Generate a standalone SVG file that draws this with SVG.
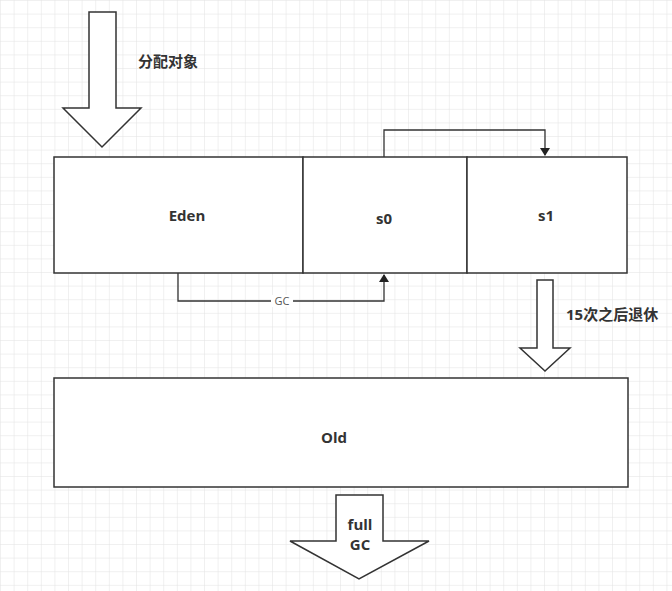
<svg xmlns="http://www.w3.org/2000/svg" width="672" height="591" viewBox="0 0 672 591">
<defs>
<pattern id="g" width="13.6" height="13.6" patternUnits="userSpaceOnUse" x="1" y="1"><path d="M13.6 0V13.6H0" fill="none" stroke="#e2e2e2" stroke-width="1"/></pattern>
<marker id="a" markerWidth="8" markerHeight="10" refX="7" refY="5" orient="auto" markerUnits="userSpaceOnUse"><path d="M0 0L8 5L0 10Z" fill="#222"/></marker>
<style>
.s{fill:#fff;stroke:#333;stroke-width:1.5}
.t{font-family:"Open Sans","Noto Sans CJK SC",sans-serif;font-weight:bold;font-size:15px;fill:#333}
.c{fill:none;stroke:#333;stroke-width:1.3}
</style>
</defs>
<rect width="672" height="591" fill="#fff"/>
<rect width="672" height="591" fill="url(#g)"/>
<g id="arrowTop"><path class="s" d="M89 12H116V108H141L102 147L63 108H89Z"/></g>
<text class="t" x="138" y="67">分配对象</text>
<g id="eden"><rect class="s" x="54" y="157" width="249" height="116"/><text class="t" x="187" y="221" text-anchor="middle">Eden</text></g>
<g id="s0"><rect class="s" x="303" y="157" width="164" height="116"/><text class="t" x="384" y="224" text-anchor="middle">s0</text></g>
<g id="s1"><rect class="s" x="467" y="157" width="160" height="116"/><text class="t" x="546" y="221" text-anchor="middle">s1</text></g>
<g id="connectors">
<path class="c" d="M384 157V130H545V155" marker-end="url(#a)"/>
<path class="c" d="M178 273V301H384V275" marker-end="url(#a)"/>
<rect x="271" y="295" width="22" height="12" fill="#fff"/>
<text x="282" y="305" text-anchor="middle" font-family="Open Sans,sans-serif" font-size="11" fill="#555">GC</text>
</g>
<g id="arrowRight"><path class="s" d="M537 280H553V348H570L545 371L520 348H537Z"/></g>
<text class="t" x="566" y="320">15次之后退休</text>
<g id="old"><rect class="s" x="54" y="378" width="574" height="109"/><text class="t" x="334" y="443" text-anchor="middle">Old</text></g>
<g id="arrowBottom"><path class="s" d="M336 495H383V541H429L359 579L290 541H336Z"/>
<text class="t" x="360" y="530" text-anchor="middle">full</text><text class="t" x="360" y="550" text-anchor="middle">GC</text></g>
</svg>
